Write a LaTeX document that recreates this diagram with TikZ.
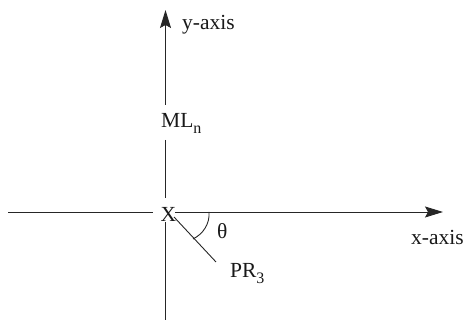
\documentclass[tikz,border=0pt]{standalone}
\usepackage{fontspec}
\setmainfont{Liberation Serif}
\usetikzlibrary{arrows.meta}
\tikzset{
  axisline/.style={draw=black!85,line width=0.9pt},
  arrowline/.style={axisline,-{Stealth[length=18pt,width=11pt,inset=3pt]}},
  lbl/.style={inner sep=0pt,anchor=base west,font=\fontsize{21.5pt}{24pt}\selectfont,text=black!90}
}
\newcommand{\lowidx}[1]{\raisebox{-5.5pt}{\fontsize{16pt}{17pt}\selectfont #1}}
\begin{document}
\begin{tikzpicture}[x=1pt,y=-1pt]
\useasboundingbox (0,0) rectangle (467,320);
\node[lbl] (X) at (160.5,222) {X};
\node[lbl] (ML) at (161,128) {ML\lowidx{n}};
\node[lbl] (PR) at (230,278) {PR\lowidx{3}};
\node[lbl] (yl) at (182,30) {y-axis};
\node[lbl] (xl) at (411,245) {x-axis};
\node[lbl] (th) at (217,239) {θ};
\coordinate (ytop) at (165.5,10);
\coordinate (ymlb) at (165.5,105);
\coordinate (ymlt) at (165.5,140);
\coordinate (yxt) at (165.5,198);
\coordinate (yxb) at (165.5,222);
\coordinate (ybot) at (165.5,320);
\coordinate (xleft) at (8,212);
\coordinate (xlx) at (153,212);
\coordinate (xrx) at (175,212);
\coordinate (xright) at (443,212);
\coordinate (d1) at (174,217);
\coordinate (d2) at (216,262);
\coordinate (a1) at (209,212);
\coordinate (a2) at (193,239);
\draw[arrowline] (ymlb) -- (ytop);
\draw[axisline] (ymlt) -- (yxt);
\draw[axisline] (yxb) -- (ybot);
\draw[axisline] (xleft) -- (xlx);
\draw[arrowline] (xrx) -- (xright);
\draw[axisline] (d1) -- (d2);
\draw[axisline] (a1) .. controls (210,224) and (203,234) .. (a2);
\end{tikzpicture}
\end{document}
